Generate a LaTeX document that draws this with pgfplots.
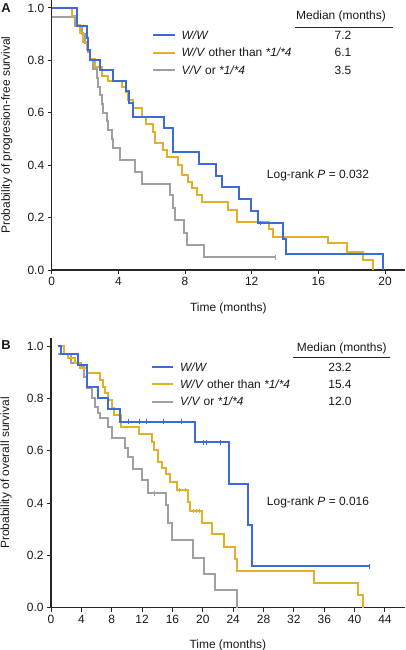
\documentclass[border=0pt]{standalone}
\usepackage{fontspec}
\setmainfont{Liberation Sans}
\usepackage{pgfplots}
\pgfplotsset{compat=1.18}
\definecolor{kmblue}{RGB}{60,105,220}
\definecolor{kmyellow}{RGB}{225,175,40}
\definecolor{kmgray}{RGB}{160,160,160}
\newcommand{\fs}{\fontsize{12}{14.4}\selectfont}
\pgfplotsset{kmaxis/.style={
  scale only axis,
  axis lines=left,
  axis line style={-, line width=1.3bp, black!85},
  tick align=outside,
  major tick length=4bp,
  tick style={line width=1bp, black!85},
  ymin=0, ymax=1.03,
  ytick={0,0.2,0.4,0.6,0.8,1.0},
  yticklabel style={/pgf/number format/.cd, fixed, fixed zerofill, precision=1},
  /pgf/number format/assume math mode=true,
  ticklabel style={font=\fs, text=black!90},
  every axis y label/.style={at={(axis description cs:-0.127,0.5)}, rotate=90, anchor=center, font=\fs, text=black!90},
  every axis x label/.style={at={(axis description cs:0.5,0)}, anchor=center, yshift=-38bp, font=\fs, text=black!90},
  clip=false,
  km/.style={const plot, line width=2bp, mark=none},
  cens/.style={only marks, mark=|, mark size=2.2bp, mark options={line width=1bp}},
}}
\begin{document}
\begin{tikzpicture}[x=1bp,y=-1bp,font=\fs]
\useasboundingbox (0,0) rectangle (405,650);
% ---------------- Panel A ----------------
\begin{axis}[kmaxis, at={(51.7bp,-270bp)}, anchor=origin,
  width=353.3bp, height=269.9bp,
  xmin=0, xmax=21.2, xtick={0,4,8,12,16,20},
  xlabel={Time (months)}, ylabel={Probability of progresion-free survival}]
\addplot[km, kmgray] coordinates {(0,0.967)(1.4,0.933)(1.8,0.9)(2.0,0.867)(2.2,0.833)(2.3,0.8)(2.5,0.767)(2.7,0.733)(2.8,0.7)(2.9,0.667)(3.0,0.633)(3.1,0.6)(3.3,0.567)(3.4,0.533)(3.6,0.5)(3.7,0.467)(4.1,0.42)(5.0,0.375)(5.4,0.33)(7.1,0.285)(7.25,0.237)(7.4,0.19)(7.95,0.143)(8.1,0.095)(9.15,0.048)(13.4,0.048)};
\addplot[cens, kmgray] coordinates {(13.4,0.048)};
\addplot[km, kmyellow] coordinates {(0,1)(1.2,0.968)(1.5,0.935)(1.7,0.903)(1.9,0.871)(2.1,0.839)(2.3,0.806)(2.6,0.774)(3.0,0.742)(3.4,0.72)(4.2,0.70)(4.45,0.68)(4.6,0.65)(4.85,0.617)(5.4,0.585)(5.65,0.556)(6.1,0.528)(6.2,0.483)(6.7,0.458)(6.9,0.433)(7.6,0.40)(7.8,0.363)(8.2,0.337)(8.4,0.312)(8.7,0.286)(9.0,0.26)(10.6,0.229)(11.1,0.184)(13.05,0.156)(13.25,0.125)(16.6,0.104)(17.7,0.07)(18.7,0.038)(19.25,0)};
\addplot[km, kmblue] coordinates {(0,1)(1.5,0.932)(2.1,0.886)(2.2,0.841)(2.3,0.80)(2.9,0.763)(3.7,0.72)(4.46,0.682)(4.65,0.636)(4.85,0.585)(6.74,0.543)(7.3,0.45)(8.85,0.405)(9.86,0.36)(10.2,0.316)(11.25,0.27)(11.94,0.225)(12.4,0.18)(13.86,0.12)(14.05,0.06)(19.9,0)};
\addplot[cens, kmblue] coordinates {(12.5,0.18)};
\end{axis}
% ---------------- Panel B ----------------
\begin{axis}[kmaxis, at={(51bp,-607.7bp)}, anchor=origin,
  width=353.7bp, height=269.5bp,
  xmin=0, xmax=46.6, xtick={0,4,8,12,16,20,24,28,32,36,40,44},
  xlabel={Time (months)}, ylabel={Probability of overall survival}]
\addplot[km, kmgray] coordinates {(0.9,0.968)(2.7,0.935)(4.0,0.92)(4.35,0.883)(4.7,0.838)(5.35,0.80)(5.8,0.768)(6.2,0.743)(6.45,0.725)(7.55,0.69)(8.0,0.647)(9.75,0.61)(10.2,0.575)(10.8,0.53)(12.0,0.49)(12.8,0.437)(15.1,0.392)(15.45,0.325)(16.0,0.259)(18.75,0.191)(20.1,0.129)(21.6,0.068)(24.45,0)};
\addplot[cens, kmgray] coordinates {(13.7,0.437)};
\addplot[km, kmyellow] coordinates {(0.9,1)(1.7,0.97)(2.3,0.955)(3.2,0.935)(3.8,0.915)(4.7,0.898)(6.4,0.87)(6.8,0.845)(7.1,0.82)(7.55,0.795)(8.0,0.765)(8.3,0.736)(9.2,0.69)(11.6,0.663)(13.3,0.634)(13.6,0.603)(14.1,0.558)(14.6,0.535)(15.15,0.51)(15.7,0.481)(16.6,0.45)(18.1,0.405)(18.3,0.37)(19.9,0.325)(21.25,0.28)(22.8,0.233)(24.2,0.185)(24.5,0.141)(34.6,0.094)(40.5,0.047)(41.1,0)};
\addplot[cens, kmyellow] coordinates {(16.9,0.45)(17.7,0.45)(18.8,0.37)(19.2,0.37)(19.6,0.37)};
\addplot[km, kmblue] coordinates {(0.9,1)(1.3,0.968)(3.6,0.927)(4.7,0.845)(6.2,0.80)(7.55,0.758)(9.1,0.711)(19.0,0.632)(23.4,0.474)(25.9,0.316)(26.5,0.158)(41.9,0.158)};
\addplot[cens, kmblue] coordinates {(10.2,0.711)(11.7,0.711)(12.6,0.711)(14.8,0.711)(17.2,0.711)(20.1,0.632)(20.5,0.632)(22.3,0.632)(41.9,0.158)};
\end{axis}
% ---------------- Panel letters ----------------
\node[font=\fontsize{13}{15}\selectfont\bfseries, text=black!90] at (6,8) {A};
\node[font=\fontsize{13}{15}\selectfont\bfseries, text=black!90] at (6,345) {B};
% ---------------- Legend A ----------------
\draw[kmblue, line width=2bp] (153,35) -- (175,35);
\draw[kmyellow, line width=2bp] (153,52.7) -- (175,52.7);
\draw[kmgray, line width=2bp] (153,70.3) -- (175,70.3);
\node[anchor=west, inner sep=0pt, text=black!90] at (181.5,35) {\textit{W/W}};
\node[anchor=west, inner sep=0pt, text=black!90] at (181.5,52.7) {\textit{W/V} other than \textit{*1/*4}};
\node[anchor=west, inner sep=0pt, text=black!90] at (181.5,70.3) {\textit{V/V} or \textit{*1/*4}};
\node[text=black!90] at (341,16.7) {Median (months)};
\draw[black!85, line width=0.9bp] (295,27.7) -- (393,27.7);
\node[text=black!90] at (343,35) {7.2};
\node[text=black!90] at (343,52.7) {6.1};
\node[text=black!90] at (343,70.3) {3.5};
\node[text=black!90] at (318,175) {Log-rank \textit{P} = 0.032};
% ---------------- Legend B ----------------
\draw[kmblue, line width=2bp] (151.7,367.3) -- (173.3,367.3);
\draw[kmyellow, line width=2bp] (151.7,384.3) -- (173.3,384.3);
\draw[kmgray, line width=2bp] (151.7,401.7) -- (173.3,401.7);
\node[anchor=west, inner sep=0pt, text=black!90] at (180,367.3) {\textit{W/W}};
\node[anchor=west, inner sep=0pt, text=black!90] at (180,384.3) {\textit{W/V} other than \textit{*1/*4}};
\node[anchor=west, inner sep=0pt, text=black!90] at (180,401.7) {\textit{V/V} or \textit{*1/*4}};
\node[text=black!90] at (341.7,348.3) {Median (months)};
\draw[black!85, line width=0.9bp] (293,357.3) -- (390,357.3);
\node[text=black!90] at (340,367.3) {23.2};
\node[text=black!90] at (340,384.3) {15.4};
\node[text=black!90] at (340,401.7) {12.0};
\node[text=black!90] at (318,502.7) {Log-rank \textit{P} = 0.016};
\end{tikzpicture}
\end{document}
